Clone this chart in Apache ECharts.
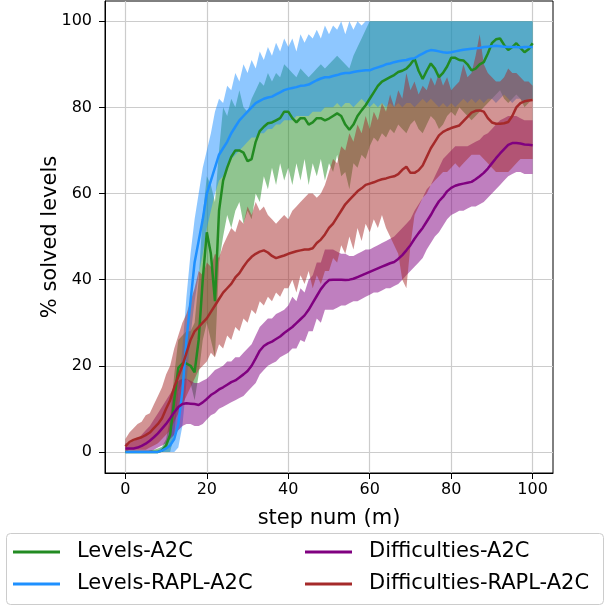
<!DOCTYPE html>
<html>
<head>
<meta charset="utf-8">
<script src="https://cdn.jsdelivr.net/npm/echarts@6/dist/echarts.min.js"></script>
<style>html,body{margin:0;padding:0;background:#fff;}#chart{width:605px;height:607px;}</style>
</head>
<body>
<div id="chart"></div>
<script>
// x positions (million steps)
var steps = [];
for (var s = 0; s <= 100; s++) steps.push(s);

var xTicks = [0, 20, 40, 60, 80, 100];
var yTicks = [0, 20, 40, 60, 80, 100];

// Levels-A2C
var levelsA2C = [
  0,0,0,0,0,0,0,0,0,0.3,
  1.5,4,12,19.5,20.5,20.5,20,18.5,26,40,
  51,46,35,56,63,66,68.5,70,70,69.5,
  67.5,68,72,74.5,75.5,76.3,76.5,77,77.5,79,
  79,77.5,76.5,77.5,77.5,76,76.5,77.5,77.5,77,
  77.4,78,78.6,78,76,74.8,76,78,79.3,80.5,
  82,83.5,85,86,86.5,87,87.5,88.2,88.5,89,
  90,91.3,88.5,86.6,88.5,90.2,89,87,88,89.5,
  91.5,91.5,91,90.9,90,88.6,89,90,90.5,92.5,
  94.9,95.8,96,94.5,93.3,94,94.9,93.8,92.8,93.5,
  94.9];
var levelsA2CLow = [
  0,0,0,0,0,0,0,0,0,0,
  0,0,4,14,16,17,16,12,18,26,
  30,26,22,44,50,55,52,56,58,53,
  56,54,60,58,64,61,66,62,67,63,
  66,62,67,63,68,62,67,64,68,63,
  67,65,69,64,65,61,67,66,69,68,
  71,73,72,74,73,75,74,76,75,74,
  76,77,75,74,76,78,77,75,76,78,
  79,78,80,79,78,77,78,79,80,81,
  82,83,84,82,81,82,83,82,80,81,
  82];
var levelsA2CHigh = [
  0,0,0,0,0,0,0.3,0.5,0.8,1.2,
  3,8,18,26,27,28,28,30,40,55,
  64,62,58,70,80,78,82,80,84,80,
  79,82,84,86,85,88,86,88,87,90,
  89,88,87,89,88,87,88,89,90,89,
  90,91,92,91,90,89,92,94,96,98,
  100,100,100,100,100,100,100,100,100,100,
  100,100,100,100,100,100,100,100,100,100,
  100,100,100,100,100,100,100,100,100,100,
  100,100,100,100,100,100,100,100,100,100,
  100];

// Levels-RAPL-A2C
var levelsRAPL = [
  0,0,0,0,0,0,0,0,0,0.3,
  0.8,1.5,3,6.5,14,26,35,44,49,54,
  60,63,66,69,70.5,72,74,75.5,77,78,
  79,80,81,81.5,82,82.3,82.5,83,83.5,84,
  84.3,84.5,84.7,85,85.1,85.3,85.8,86.3,86.7,87,
  87,87.3,87.5,87.8,88,88,88.2,88.4,88.5,88.6,
  88.6,89,89.3,89.6,90,90.2,90.5,90.7,90.9,91,
  91.3,91.4,92,92.5,93,93.3,93.2,93,92.8,92.7,
  92.8,93,93.2,93.4,93.5,93.6,93.7,93.8,94,94.1,
  94.2,94.3,94.2,94.1,94,94,94,93.9,94,94,
  94];
var levelsRAPLLow = [
  0,0,0,0,0,0,0,0,0,0,
  0,0,0,1,6,16,27,35,41,46,
  52,56,60,63,64,66,68,69,70,71,
  72,73,73,74,74,75,75,76,76,77,
  77,77,78,78,78,78,79,79,79,80,
  80,80,81,80,81,81,80,81,82,81,
  80,81,80,81,80,81,80,81,80,81,
  81,80,81,82,81,82,81,80,81,80,
  81,80,81,82,81,82,81,82,81,82,
  82,81,82,83,82,81,82,82,81,82,
  82];
var levelsRAPLHigh = [
  0,0,0,0,0,0,0,0,0.3,1,
  2,4,8,14,24,36,46,54,60,66,
  70,74,79,82,81,85,84,88,86,90,
  88,91,89,93,91,94,92,95,93,96,
  94,96,93,97,95,97,96,98,96,99,
  97,99,98,100,97,100,98,100,99,100,
  100,100,100,100,100,100,100,100,100,100,
  100,100,100,100,100,100,100,100,100,100,
  100,100,100,100,100,100,100,100,100,100,
  100,100,100,100,100,100,100,100,100,100,
  100];

// Difficulties-A2C
var diffA2C = [
  0.8,0.8,0.8,1,1.4,1.9,2.6,3.4,4.3,5.4,
  6.5,7.8,9.2,10.4,11.1,11.3,11.2,11.1,10.9,11.5,
  12.3,13.2,13.8,14.5,15,15.6,16.2,16.6,17.3,18,
  18.8,20,21.7,23.5,24.6,25.2,25.6,26.2,26.8,27.6,
  28.3,29,29.9,30.8,31.7,33,34.6,36.2,37.8,39,
  39.9,40,40,40,39.9,40,40.2,40.6,41,41.4,
  41.8,42.2,42.6,43,43.4,43.8,44.1,44.8,45.7,46.8,
  48,49.5,50.8,52,53.5,55,56.7,58.2,59.2,60.5,
  61.3,61.8,62.1,62.3,62.5,62.7,63.3,64,64.8,65.8,
  67,68.2,69.3,70.3,71.3,71.7,71.7,71.6,71.4,71.3,
  71.2];
var diffA2CLow = [
  0,0,0,0,0,0,0,0.5,1,1.5,
  2,3,4,5,6,6.5,6.5,6,6,6.5,
  7.5,8.5,9,10,10.5,11,11.5,12,12.5,13,
  14,15,16,18,19,20,20.5,21,22,22.5,
  23,24,24,26,25.5,28,28,31,30,33,
  33,33,33.5,34,34,34.5,35,35,35.5,36,
  36.5,37,37,37.5,38,38,38.5,39,40,41,
  42,43,44,45,47,48.5,50,51,52.5,54,
  55,55.5,56,56,56.5,57,57,57.5,58,59,
  60,61,62,63,64,64.5,65,65,64.5,64.5,
  64.5];
var diffA2CHigh = [
  2,2,2.5,3,4,5,6,7.5,9,10.5,
  12,13.5,15,16.5,17,17,16.5,16,16,16.5,
  17,18,19,19.5,20,21,21,22,22,23,
  24,25,27,29,30,31,31,32,32.5,33,
  34,36,35,38,37,40,41,44,44,47,
  47,47,46.5,46,46,45.5,45.5,46,46.5,47,
  47,47.5,48,48.5,49,49.5,50,51,52,53,
  54,56,57.5,59,61,62,64,66,68,69,
  70,71,71,71,71,71.5,72,72.5,73.5,74,
  75,76,77,77.5,78,78,78,77.5,77,77,
  77];

// Difficulties-RAPL-A2C
var diffRAPL = [
  1.3,2.3,2.8,3.1,3.4,3.9,4.5,5.5,6.5,7.8,
  10,12,15,17.5,20,23,26,28,29,30,
  31,32.5,34,35.5,37,38,39,40.5,41.5,43,
  44.3,45.3,46,46.5,46.8,46.3,45.5,45,45.3,45.6,
  46,46.3,46.6,46.8,47,47,47.3,48.5,49.3,50.5,
  52,53,54.5,56,57.5,58.5,59.5,60.5,61.2,62,
  62.3,62.6,63,63.3,63.5,63.8,64,64.5,65.5,66.2,
  64.8,64.8,65.4,66.5,68.5,70.5,72,73.5,74.3,74.8,
  75.2,75.5,75.8,76.8,77.8,78.8,79.2,79.3,79,77.5,
  76.5,76.2,76.2,76.3,76.6,78,80,81,81.4,81.6,
  81.7];
var diffRAPLLow = [
  0,0.5,0.5,0.5,0.5,0.5,1,1.5,2,3,
  4,5,7,9,11,13,15,17,19,20,
  21,23,22,25,24,27,26,29,28,31,
  30,33,32,35,34,36,35,37,36,38,
  38,40,37,41,39,42,38,41,39,42,
  42,45,44,48,46,50,47,52,49,53,
  51,54,52,55,52,50,48,46,40,38,
  48,55,57,59,60,62,63,64,65,65,
  66,67,66,67,68,69,69,69,68,67,
  66,65,65,65,65,66,67,68,68,68,
  68];
var diffRAPLHigh = [
  3,4.5,5.5,6.5,7,8.5,9,11,13,15,
  18,20,24,27,30,32,35,38,42,41,
  44,43,46,45,48,50,52,51,54,53,
  57,55,58,56,57,55,54,53,54,55,
  54,56,57,58,59,60,60,59,60,62,
  65,68,67,71,70,74,72,76,74,78,
  75,79,77,81,79,83,80,84,82,88,
  84,86,83,85,84,87,85,88,85,87,
  84,85,86,90,87,88,92,97,90,88,
  87,86,86,87,89,88,88,87,86,86,
  85];

var FONT = 'DejaVu Sans';

function zip(ys) { return steps.map(function (x, i) { return [x, ys[i]]; }); }

function band(name, lo, hi, fill) {
  return {
    type: 'custom', name: name, silent: true, z: 1,
    data: steps.map(function (x, i) { return [x, lo[i], hi[i]]; }),
    encode: { x: 0, y: [1, 2] },
    renderItem: function (params, api) {
      if (params.dataIndex !== 0) return;
      var pts = [];
      for (var i = 0; i < steps.length; i++) pts.push(api.coord([steps[i], hi[i]]));
      for (var j = steps.length - 1; j >= 0; j--) pts.push(api.coord([steps[j], lo[j]]));
      return { type: 'polygon', shape: { points: pts }, style: { fill: fill } };
    }
  };
}

function line(name, ys, color) {
  return {
    type: 'line', name: name, data: zip(ys), color: color,
    showSymbol: false, symbol: 'none', z: 3,
    lineStyle: { width: 2.5, color: color },
    emphasis: { disabled: true }
  };
}

var legendText = { fontSize: 21, fontFamily: FONT, color: '#000', lineHeight: 24, padding: [0, 0, 0, 12] };

var option = {
  animation: false,
  backgroundColor: '#fff',
  grid: { left: 105, top: 1, width: 448, height: 472, show: true, borderColor: '#000', borderWidth: 1, backgroundColor: 'transparent' },
  xAxis: {
    type: 'value', min: -5, max: 105,
    name: 'step num (m)', nameLocation: 'middle', nameGap: 35, nameMoveOverlap: false,
    nameTextStyle: { fontSize: 21, fontFamily: FONT, color: '#000' },
    axisLine: { show: true, onZero: false, lineStyle: { color: '#000', width: 1 } },
    axisTick: { show: true, length: 6, customValues: xTicks, lineStyle: { color: '#000', width: 1 } },
    axisLabel: { customValues: xTicks, fontSize: 16, fontFamily: FONT, color: '#000', margin: 9 },
    splitLine: { show: true, lineStyle: { color: '#cccccc', width: 1.2 } }
  },
  yAxis: {
    type: 'value', min: -4.9, max: 104.7,
    name: '% solved levels', nameLocation: 'middle', nameGap: 44, nameRotate: 90, nameMoveOverlap: false,
    nameTextStyle: { fontSize: 21, fontFamily: FONT, color: '#000' },
    axisLine: { show: true, onZero: false, lineStyle: { color: '#000', width: 1 } },
    axisTick: { show: true, length: 6, customValues: yTicks, lineStyle: { color: '#000', width: 1 } },
    axisLabel: { customValues: yTicks, fontSize: 16, fontFamily: FONT, color: '#000', margin: 13 },
    splitLine: { show: true, lineStyle: { color: '#cccccc', width: 1.2 } }
  },
  legend: [
    { data: ['Levels-A2C', 'Levels-RAPL-A2C'], orient: 'vertical', left: 13, top: 540, padding: 0,
      itemWidth: 47, itemHeight: 3, icon: 'rect', itemGap: 8, textStyle: legendText, selectedMode: false },
    { data: ['Difficulties-A2C', 'Difficulties-RAPL-A2C'], orient: 'vertical', left: 305, top: 540, padding: 0,
      itemWidth: 47, itemHeight: 3, icon: 'rect', itemGap: 8, textStyle: legendText, selectedMode: false }
  ],
  graphic: [
    { type: 'rect', z: -1, shape: { x: 6.5, y: 533.5, width: 597, height: 71, r: 4 },
      style: { fill: '#fff', stroke: '#cccccc', lineWidth: 1 } }
  ],
  series: [
    band('band-levels', levelsA2CLow, levelsA2CHigh, 'rgba(34,139,34,0.5)'),
    band('band-levels-rapl', levelsRAPLLow, levelsRAPLHigh, 'rgba(30,144,255,0.5)'),
    band('band-diff', diffA2CLow, diffA2CHigh, 'rgba(128,0,128,0.5)'),
    band('band-diff-rapl', diffRAPLLow, diffRAPLHigh, 'rgba(165,42,42,0.5)'),
    line('Levels-A2C', levelsA2C, '#228B22'),
    line('Levels-RAPL-A2C', levelsRAPL, '#1E90FF'),
    line('Difficulties-A2C', diffA2C, '#800080'),
    line('Difficulties-RAPL-A2C', diffRAPL, '#A52A2A')
  ]
};

var chart = echarts.init(document.getElementById('chart'), null, { renderer: 'canvas' });
chart.setOption(option);
</script>
</body>
</html>
